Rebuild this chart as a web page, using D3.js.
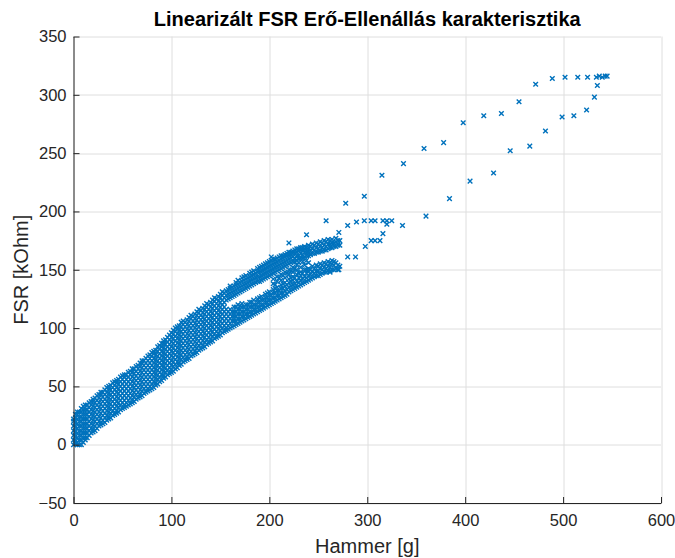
<!DOCTYPE html>
<html>
<head>
<meta charset="utf-8">
<script src="https://cdn.jsdelivr.net/npm/d3@7"></script>
<style>
  body { margin: 0; background: #fff; }
  text { font-family: "Liberation Sans", Arial, Helvetica, sans-serif; }
</style>
</head>
<body>
<div id="chart"></div>
<script>
// tick labels
var xTicks = [0, 100, 200, 300, 400, 500, 600];
var yTicks = [-50, 0, 50, 100, 150, 200, 250, 300, 350];

// dense part of the measurement (hammer value of a column, FSR values read in it)
var bandHammer = [0, 4, 8, 12, 16, 20, 24, 28, 32, 36, 40, 44, 48, 52, 56, 60, 64, 68, 72, 76,
  80, 84, 88, 92, 96, 100, 104, 108, 112, 116, 120, 124, 128, 132, 136, 140, 144, 148, 152, 156,
  160, 164, 168, 172, 176, 180, 184, 188, 192, 196, 200, 204, 208, 212, 216, 220, 224, 228, 232, 236,
  240, 244, 248, 252, 256, 260, 264, 268, 272];
var bandFsr = [
  [0, 4, 8, 12, 16, 20, 22],
  [0, 2, 6, 10, 14, 18, 22, 26, 28],
  [0, 4, 8, 12, 16, 20, 24, 28, 31],
  [4, 6, 10, 14, 18, 22, 26, 30, 34],
  [8, 12, 16, 20, 24, 28, 32, 36],
  [11, 13, 17, 21, 25, 29, 33, 37, 39],
  [14, 18, 22, 26, 30, 34, 38, 42],
  [17, 19, 23, 27, 31, 35, 39, 43, 45],
  [19, 23, 27, 31, 35, 39, 43, 47],
  [22, 24, 28, 32, 36, 40, 44, 48, 50],
  [25, 29, 33, 37, 41, 45, 49, 53],
  [27, 29, 33, 37, 41, 45, 49, 53, 55],
  [30, 34, 38, 42, 46, 50, 54, 58],
  [32, 34, 38, 42, 46, 50, 54, 58, 60],
  [34, 38, 42, 46, 50, 54, 58, 62],
  [36, 38, 42, 46, 50, 54, 58, 62, 65],
  [39, 43, 47, 51, 55, 59, 63, 67],
  [41, 43, 47, 51, 55, 59, 63, 67, 70],
  [44, 48, 52, 56, 60, 64, 68, 72],
  [46, 48, 52, 56, 60, 64, 68, 72, 76],
  [48, 52, 56, 60, 64, 68, 72, 76, 79],
  [51, 53, 57, 61, 65, 69, 73, 77, 81],
  [54, 58, 62, 66, 70, 74, 78, 82, 85],
  [57, 59, 63, 67, 71, 75, 79, 83, 87, 89],
  [60, 64, 68, 72, 76, 80, 84, 88, 92],
  [62, 64, 68, 72, 76, 80, 84, 88, 92, 96],
  [65, 69, 73, 77, 81, 85, 89, 93, 97, 100],
  [68, 70, 74, 78, 82, 86, 90, 94, 98, 102],
  [71, 75, 79, 83, 87, 91, 95, 99, 103, 106],
  [73, 75, 79, 83, 87, 91, 95, 99, 103, 107],
  [76, 80, 84, 88, 92, 96, 100, 104, 108, 111],
  [78, 80, 84, 88, 92, 96, 100, 104, 108, 112],
  [81, 85, 89, 93, 97, 101, 105, 109, 113, 116],
  [83, 85, 89, 93, 97, 101, 105, 109, 113, 117],
  [86, 90, 94, 98, 102, 106, 110, 114, 118, 121],
  [88, 90, 94, 98, 102, 106, 110, 114, 118, 122],
  [91, 95, 99, 103, 107, 111, 115, 119, 123, 126],
  [93, 95, 99, 103, 107, 111, 115, 119, 123, 127],
  [96, 100, 104, 108, 112, 116, 120, 124, 128, 131],
  [98, 100, 104, 108, 112, 116, 124, 128, 132],
  [100, 104, 108, 112, 116, 126, 130, 134, 136],
  [102, 106, 110, 114, 118, 128, 132, 136],
  [104, 108, 112, 116, 120, 130, 134, 138, 141],
  [106, 110, 114, 118, 121, 132, 136, 140, 143],
  [108, 112, 116, 120, 134, 138, 142, 145],
  [110, 114, 118, 122, 136, 140, 144, 147],
  [112, 116, 120, 124, 138, 142, 146, 149],
  [114, 118, 122, 125, 140, 144, 148, 151],
  [116, 120, 124, 127, 141, 145, 149, 153],
  [118, 122, 126, 129, 143, 147, 151, 155],
  [120, 124, 128, 131, 145, 149, 153, 157],
  [122, 126, 130, 133, 147, 151, 155, 159],
  [124, 128, 132, 135, 149, 153, 157, 160],
  [126, 130, 134, 137, 151, 155, 159, 162],
  [128, 132, 136, 139, 153, 157, 161, 163],
  [131, 135, 139, 142, 155, 159, 163, 165],
  [133, 137, 141, 144, 157, 161, 164, 166],
  [135, 140, 146, 158, 162, 165, 168],
  [137, 141, 145, 148, 160, 164, 167, 169],
  [139, 144, 150, 161, 165, 168, 170],
  [141, 145, 149, 151, 162, 166, 169, 171],
  [143, 148, 153, 164, 168, 172],
  [145, 149, 154, 165, 169, 173],
  [146, 151, 155, 166, 170, 174],
  [148, 152, 156, 167, 171, 175],
  [149, 153, 157, 168, 172, 176],
  [150, 155, 158, 169, 173, 176],
  [151, 156, 170, 174, 177],
  [153, 171, 175]
];

// the in-between columns of the dense part
var midHammer = [2, 6, 10, 14, 18, 22, 26, 30, 34, 38, 42, 46, 50, 54, 58, 62, 66, 70, 74, 78,
  82, 86, 90, 94, 98, 102, 106, 110, 114, 118, 122, 126, 130, 134, 138, 142, 146, 150, 154, 158,
  162, 166, 170, 174, 178, 182, 186, 190, 194, 198, 202, 206, 210, 214, 218, 222, 226, 230, 234, 238,
  242, 246, 250, 254, 258, 262, 266, 270];
var midFsr = [
  [1, 3, 7, 11, 15, 19, 23, 26],
  [0, 4, 8, 12, 16, 20, 24, 28],
  [2, 6, 10, 14, 18, 22, 26, 30, 33],
  [6, 10, 14, 18, 22, 26, 30, 34],
  [10, 14, 18, 22, 26, 30, 34, 37],
  [12, 16, 20, 24, 28, 32, 36, 40],
  [16, 20, 24, 28, 32, 36, 40, 43],
  [18, 21, 25, 29, 33, 37, 41, 45],
  [21, 25, 29, 33, 37, 41, 45, 49],
  [23, 27, 31, 35, 39, 43, 47, 51],
  [26, 31, 35, 39, 43, 47, 51, 54],
  [28, 32, 36, 40, 44, 48, 52, 56],
  [31, 36, 40, 44, 48, 52, 56, 59],
  [33, 36, 40, 44, 48, 52, 56, 60],
  [35, 40, 44, 48, 52, 56, 60, 63],
  [37, 41, 45, 49, 53, 57, 61, 65],
  [40, 45, 49, 53, 57, 61, 65, 68],
  [42, 46, 50, 54, 58, 62, 66, 70, 72],
  [45, 50, 54, 58, 62, 66, 70, 74],
  [47, 50, 54, 58, 62, 66, 70, 74, 77],
  [49, 54, 58, 62, 66, 70, 74, 78, 80],
  [52, 56, 60, 64, 68, 72, 76, 80, 84],
  [55, 60, 64, 68, 72, 76, 80, 84, 87],
  [58, 62, 66, 70, 74, 78, 82, 86, 90],
  [61, 66, 70, 74, 78, 82, 86, 90, 94],
  [63, 67, 71, 75, 79, 83, 87, 91, 95, 98],
  [66, 71, 75, 79, 83, 87, 91, 95, 99, 101],
  [69, 73, 77, 81, 85, 89, 93, 97, 101, 105],
  [72, 77, 81, 85, 89, 93, 97, 101, 105],
  [74, 78, 82, 86, 90, 94, 98, 102, 106, 109],
  [77, 82, 86, 90, 94, 98, 102, 106, 110],
  [79, 83, 87, 91, 95, 99, 103, 107, 111, 114],
  [82, 87, 91, 95, 99, 103, 107, 111, 115],
  [84, 88, 92, 96, 100, 104, 108, 112, 116, 119],
  [87, 92, 96, 100, 104, 108, 112, 116, 120],
  [89, 93, 97, 101, 105, 109, 113, 117, 121, 124],
  [92, 97, 101, 105, 109, 113, 117, 121, 125],
  [94, 98, 102, 106, 110, 114, 118, 122, 126, 129],
  [97, 102, 106, 110, 114, 118, 122, 126, 130],
  [99, 102, 106, 110, 114, 125, 129, 133],
  [101, 106, 110, 114, 127, 131, 135],
  [103, 106, 110, 114, 118, 129, 133, 137, 139],
  [105, 108, 112, 116, 119, 131, 135, 139],
  [107, 110, 114, 118, 133, 137, 141, 144],
  [109, 112, 116, 120, 135, 139, 143],
  [111, 114, 118, 122, 137, 141, 145, 148],
  [113, 116, 120, 139, 143, 147],
  [115, 118, 122, 126, 140, 144, 148, 152],
  [117, 120, 124, 142, 146, 150, 154],
  [119, 122, 126, 130, 144, 148, 152, 156],
  [121, 124, 128, 146, 150, 154, 158],
  [123, 126, 130, 134, 148, 152, 156, 159],
  [125, 128, 132, 150, 154, 158, 161],
  [127, 130, 134, 138, 152, 156, 160, 162],
  [129, 133, 137, 154, 158, 162, 164],
  [132, 136, 140, 143, 156, 160, 163, 165],
  [134, 138, 143, 157, 160, 164, 167],
  [136, 139, 143, 147, 159, 162, 166, 168],
  [138, 142, 147, 160, 163, 167, 169],
  [140, 143, 147, 150, 162, 165, 169],
  [142, 146, 150, 163, 166, 170],
  [144, 147, 151, 164, 167, 171],
  [145, 149, 153, 165, 168, 172],
  [147, 150, 154, 166, 169, 173],
  [148, 151, 155, 167, 170, 174],
  [149, 152, 156, 169, 172, 175],
  [150, 154, 157, 170, 173],
  [150, 154, 171, 175]
];

// points between the two branches of the loop
var gapHammer = [204, 204, 206, 208, 208, 210, 212, 212, 214, 216, 216, 218, 220, 220, 222, 224,
  224, 226, 228, 228, 230, 232, 234, 236, 238, 240];
var gapFsr = [138, 142, 137, 140, 144, 143, 141, 146, 145, 143, 148, 147, 146, 150, 149, 148,
  152, 151, 150, 154, 156, 152, 157, 154, 158, 156];

// sparse points, rising branch up to the peak
var riseHammer = [220, 238, 258, 271, 278, 297, 315, 337, 358, 378, 398, 419, 437, 455, 472, 489,
  502, 515, 525, 534, 537, 540, 543, 545];
var riseFsr = [173, 180, 192, 182, 207, 213, 231, 241, 254, 259, 276, 282, 284, 294, 309, 314,
  315, 315, 315, 315, 316, 315, 316, 316];

// sparse points, falling branch back from the peak
var fallHammer = [535, 532, 524, 511, 499, 482, 466, 446, 429, 405, 384, 360, 336, 325, 320, 316,
  320, 308, 304, 297, 289, 280, 316, 313, 308, 304, 298, 288, 280, 271, 262, 202];
var fallFsr = [308, 298, 287, 282, 281, 269, 256, 252, 233, 226, 211, 196, 188, 192, 192, 192,
  189, 192, 192, 192, 191, 188, 181, 175, 175, 175, 170, 161, 161, 150, 148, 161];

var points = [];
bandHammer.forEach(function(h, i) {
  bandFsr[i].forEach(function(f) { points.push({ x: h, y: f }); });
});
midHammer.forEach(function(h, i) {
  midFsr[i].forEach(function(f) { points.push({ x: h, y: f }); });
});
gapHammer.forEach(function(h, i) { points.push({ x: h, y: gapFsr[i] }); });
riseHammer.forEach(function(h, i) { points.push({ x: h, y: riseFsr[i] }); });
fallHammer.forEach(function(h, i) { points.push({ x: h, y: fallFsr[i] }); });

var margin = { top: 36.5, right: 14, bottom: 55, left: 73.5 },
  width = 675 - margin.left - margin.right,
  height = 558 - margin.top - margin.bottom;

var svg = d3.select("#chart")
  .append("svg")
  .attr("width", 675)
  .attr("height", 558)
  .style("display", "block");

var g = svg.append("g")
  .attr("transform", "translate(" + margin.left + "," + margin.top + ")");

var x = d3.scaleLinear().domain([0, 600]).range([0, width]);
var y = d3.scaleLinear().domain([-50, 350]).range([height, 0]);

// grid
g.append("g").selectAll("line")
  .data(xTicks)
  .enter().append("line")
  .attr("x1", function(d) { return Math.round(x(d)) + 0.5; })
  .attr("x2", function(d) { return Math.round(x(d)) + 0.5; })
  .attr("y1", 0).attr("y2", height)
  .attr("stroke", "#dedede").attr("stroke-width", 1);
g.append("g").selectAll("line")
  .data(yTicks)
  .enter().append("line")
  .attr("y1", function(d) { return Math.round(y(d)) + 0.5; })
  .attr("y2", function(d) { return Math.round(y(d)) + 0.5; })
  .attr("x1", 0).attr("x2", width)
  .attr("stroke", "#dedede").attr("stroke-width", 1);

// markers
g.append("g").selectAll("path")
  .data(points)
  .enter().append("path")
  .attr("transform", function(d) { return "translate(" + x(d.x) + "," + y(d.y) + ")"; })
  .attr("d", "M-2.3,-2.3L2.3,2.3M-2.3,2.3L2.3,-2.3")
  .attr("fill", "none")
  .attr("stroke", "#0072BD")
  .attr("stroke-width", 1.4);

// axes
var xAxis = g.append("g")
  .attr("transform", "translate(0," + height + ")")
  .call(d3.axisBottom(x).tickValues(xTicks).tickSizeInner(-6).tickSizeOuter(0).tickPadding(11));
var yAxis = g.append("g")
  .call(d3.axisLeft(y).tickValues(yTicks).tickSizeInner(-6).tickSizeOuter(0).tickPadding(7));

[xAxis, yAxis].forEach(function(a) {
  a.select(".domain").attr("stroke", "#262626");
  a.selectAll(".tick line").attr("stroke", "#262626");
  a.selectAll(".tick text")
    .attr("fill", "#262626")
    .style("font-size", "16.5px")
    .style("font-family", "'Liberation Sans', Arial, sans-serif");
});

// title and labels
svg.append("text")
  .attr("x", margin.left + width / 2)
  .attr("y", 26)
  .attr("text-anchor", "middle")
  .style("font-size", "20px")
  .style("font-weight", "bold")
  .attr("fill", "#000")
  .text("Linearizált FSR Erő-Ellenállás karakterisztika");

svg.append("text")
  .attr("x", margin.left + width / 2)
  .attr("y", 553)
  .attr("text-anchor", "middle")
  .style("font-size", "20px")
  .attr("fill", "#262626")
  .text("Hammer [g]");

svg.append("text")
  .attr("transform", "translate(28," + (margin.top + height / 2) + ") rotate(-90)")
  .attr("text-anchor", "middle")
  .style("font-size", "20px")
  .attr("fill", "#262626")
  .text("FSR [kOhm]");
</script>
</body>
</html>
